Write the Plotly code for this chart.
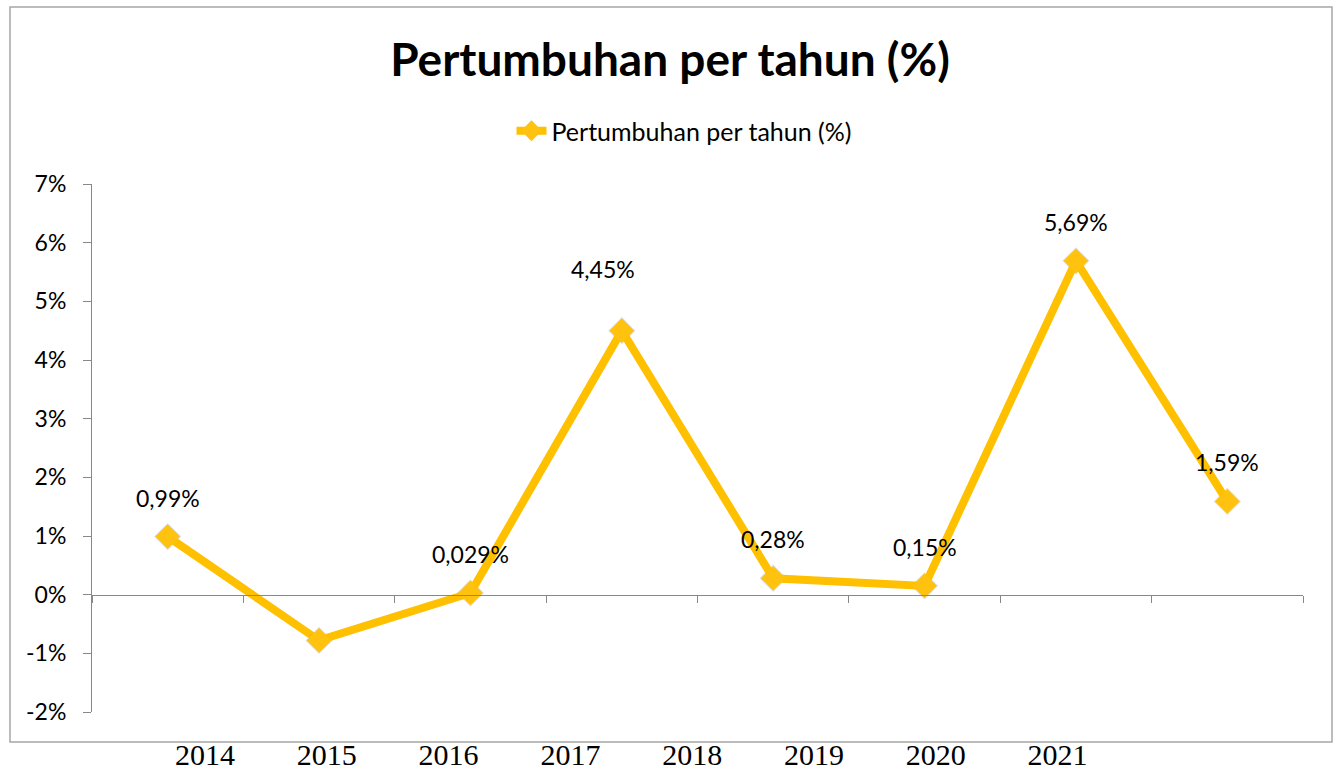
import plotly.graph_objects as go

years = ["2014", "2015", "2016", "2017", "2018", "2019", "2020", "2021"]
growth = [0.99, -0.78, 0.029, 4.5, 0.28, 0.15, 5.69, 1.59]
value_labels = ["0,99%", "", "0,029%", "4,45%", "0,28%", "0,15%", "5,69%", "1,59%"]
y_ticks = [-2, -1, 0, 1, 2, 3, 4, 5, 6, 7]
y_tick_text = ["-2%", "-1%", "0%", "1%", "2%", "3%", "4%", "5%", "6%", "7%"]
series_name = "Pertumbuhan per tahun (%)"
title_text = "Pertumbuhan per tahun (%)"

GOLD = "#FFC000"
GRAY = "#888888"
FONT = "Lato, 'Open Sans', sans-serif"

xs = list(range(len(growth)))

fig = go.Figure()

# soft shadow under markers
fig.add_trace(go.Scatter(
    x=xs, y=growth, mode="markers", showlegend=False, hoverinfo="skip",
    marker=dict(symbol="diamond", size=21, color="rgba(0,0,0,0.12)", line=dict(width=0)),
))

fig.add_trace(go.Scatter(
    x=xs, y=growth, mode="lines+markers", name=series_name,
    line=dict(color=GOLD, width=8),
    marker=dict(symbol="diamond", size=19, color="#FFC20E", line=dict(width=0)),
))

# data labels
special_shift = {3: (-19, 62)}
for i, (v, t) in enumerate(zip(growth, value_labels)):
    if not t:
        continue
    dx, dy = special_shift.get(i, (0, 39))
    fig.add_annotation(x=i, y=v, text=t, showarrow=False, xshift=dx, yshift=dy,
                       font=dict(family=FONT, size=23, color="#000000"))

# year labels on a separate overlaid axis (as in the source document)
fig.add_trace(go.Scatter(x=[0], y=[None], xaxis="x2", yaxis="y", showlegend=False, hoverinfo="skip"))

W, H = 1338, 774
L, R, T, B = 92, 35, 184, 62
pw, ph = W - L - R, H - T - B

def px_x(p):
    return (p - L) / pw

def px_y(p):
    return (H - B - p) / ph

fig.update_layout(
    width=W, height=H,
    margin=dict(l=L, r=R, t=T, b=B, autoexpand=False),
    paper_bgcolor="white", plot_bgcolor="white",
    font=dict(family=FONT, color="#000000"),
    title=dict(text="<b>" + title_text + "</b>", x=px_x(670), xref="paper", xanchor="center",
               y=1 - 60 / H, yanchor="middle", yref="container",
               font=dict(family=FONT, size=46, color="#000000")),
    showlegend=True,
    legend=dict(orientation="h", x=px_x(684), xanchor="center", y=px_y(131), yanchor="middle",
                font=dict(family=FONT, size=25), bgcolor="rgba(0,0,0,0)"),
    xaxis=dict(range=[-0.5, len(growth) - 0.5], anchor="free", position=2 / 9,
               showline=True, linecolor=GRAY, linewidth=1, automargin=False,
               tickvals=[i - 0.5 for i in range(len(growth) + 1)], ticks="outside",
               ticklen=7, tickcolor=GRAY, showticklabels=False, showgrid=False, zeroline=False),
    xaxis2=dict(overlaying="x", anchor="free", position=0, side="bottom", automargin=False,
                range=[-(205 - 92) / 121.8, (1303 - 205) / 121.8],
                tickvals=xs, ticktext=years, ticks="outside", ticklen=16,
                tickcolor="rgba(0,0,0,0)", showline=False, showgrid=False, zeroline=False,
                tickfont=dict(family="'Liberation Serif', 'Times New Roman', serif", size=30, color="#000000")),
    yaxis=dict(range=[-2, 7], tickvals=y_ticks, ticktext=y_tick_text, automargin=False,
               showline=True, linecolor=GRAY, linewidth=1, ticks="outside", ticklen=8,
               tickcolor=GRAY, ticklabelstandoff=12, showgrid=False, zeroline=False,
               tickfont=dict(family=FONT, size=23, color="#000000")),
)

# outer chart frame
fig.add_shape(type="rect", xref="paper", yref="paper",
              x0=px_x(10), x1=px_x(1332), y0=px_y(742), y1=px_y(7),
              line=dict(color="#A6A6A6", width=1.5), fillcolor="rgba(0,0,0,0)", layer="below")

fig.write_html("out.html", config={"displayModeBar": False},
               post_script="document.body.style.margin='0';document.body.style.overflow='hidden';")
